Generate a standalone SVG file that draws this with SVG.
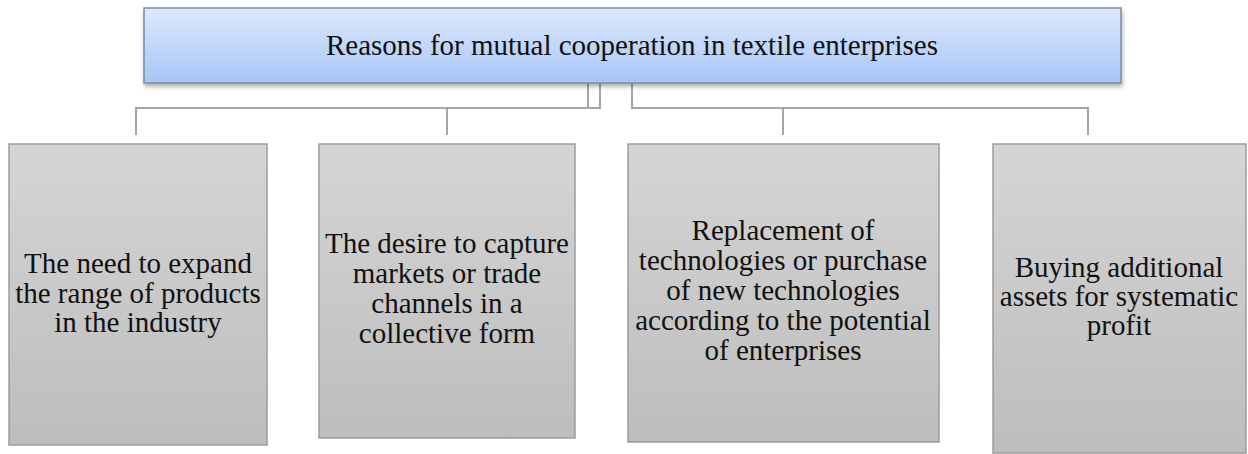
<svg xmlns="http://www.w3.org/2000/svg" width="1248" height="454" viewBox="0 0 1248 454">
  <defs>
    <linearGradient id="gBlue" x1="0" y1="0" x2="0" y2="1">
      <stop offset="0" stop-color="#dde9fc"/>
      <stop offset="1" stop-color="#a7c5f7"/>
    </linearGradient>
    <linearGradient id="gGray" x1="0" y1="0" x2="0" y2="1">
      <stop offset="0" stop-color="#d5d5d5"/>
      <stop offset="1" stop-color="#bdbdbd"/>
    </linearGradient>
    <filter id="shadow" x="-5%" y="-10%" width="110%" height="130%">
      <feDropShadow dx="1" dy="3" stdDeviation="2" flood-color="#000" flood-opacity="0.3"/>
    </filter>
  </defs>
  <style>
    .top { fill: url(#gBlue); stroke: #7d8ba3; stroke-width: 1.5; }
    .box { fill: url(#gGray); stroke: #9c9c9c; stroke-width: 1.5; }
    .conn { fill: none; stroke: #a6a6a6; stroke-width: 2; }
    .t { font-family: "Liberation Serif", serif; font-size: 29px; fill: #111; text-anchor: middle; }
  </style>
  <rect width="1248" height="454" fill="#ffffff"/>

  <g id="connectors">
    <path class="conn" d="M588,83 V108 H447 V135"/>
    <path class="conn" d="M600,83 V108 H136 V135"/>
    <path class="conn" d="M632,83 V108 H783 V135"/>
    <path class="conn" d="M632,108 H1088 V135"/>
  </g>

  <g id="title-node">
    <rect class="top" x="144" y="8" width="977" height="75" filter="url(#shadow)"/>
    <text class="t" x="632" y="55">Reasons for mutual cooperation in textile enterprises</text>
  </g>

  <g id="node1">
    <rect class="box" x="9" y="144" width="258" height="301"/>
    <text class="t" x="138" y="273">The need to expand</text>
    <text class="t" x="138" y="302.5">the range of products</text>
    <text class="t" x="138" y="332">in the industry</text>
  </g>

  <g id="node2">
    <rect class="box" x="319" y="144" width="256" height="294"/>
    <text class="t" x="447" y="253">The desire to capture</text>
    <text class="t" x="447" y="283">markets or trade</text>
    <text class="t" x="447" y="313">channels in a</text>
    <text class="t" x="447" y="343">collective form</text>
  </g>

  <g id="node3">
    <rect class="box" x="628" y="144" width="311" height="298"/>
    <text class="t" x="783" y="240">Replacement of</text>
    <text class="t" x="783" y="270">technologies or purchase</text>
    <text class="t" x="783" y="300">of new technologies</text>
    <text class="t" x="783" y="330">according to the potential</text>
    <text class="t" x="783" y="360">of enterprises</text>
  </g>

  <g id="node4">
    <rect class="box" x="993" y="144" width="253" height="309"/>
    <text class="t" x="1119" y="277">Buying additional</text>
    <text class="t" x="1119" y="306">assets for systematic</text>
    <text class="t" x="1119" y="335">profit</text>
  </g>
</svg>
